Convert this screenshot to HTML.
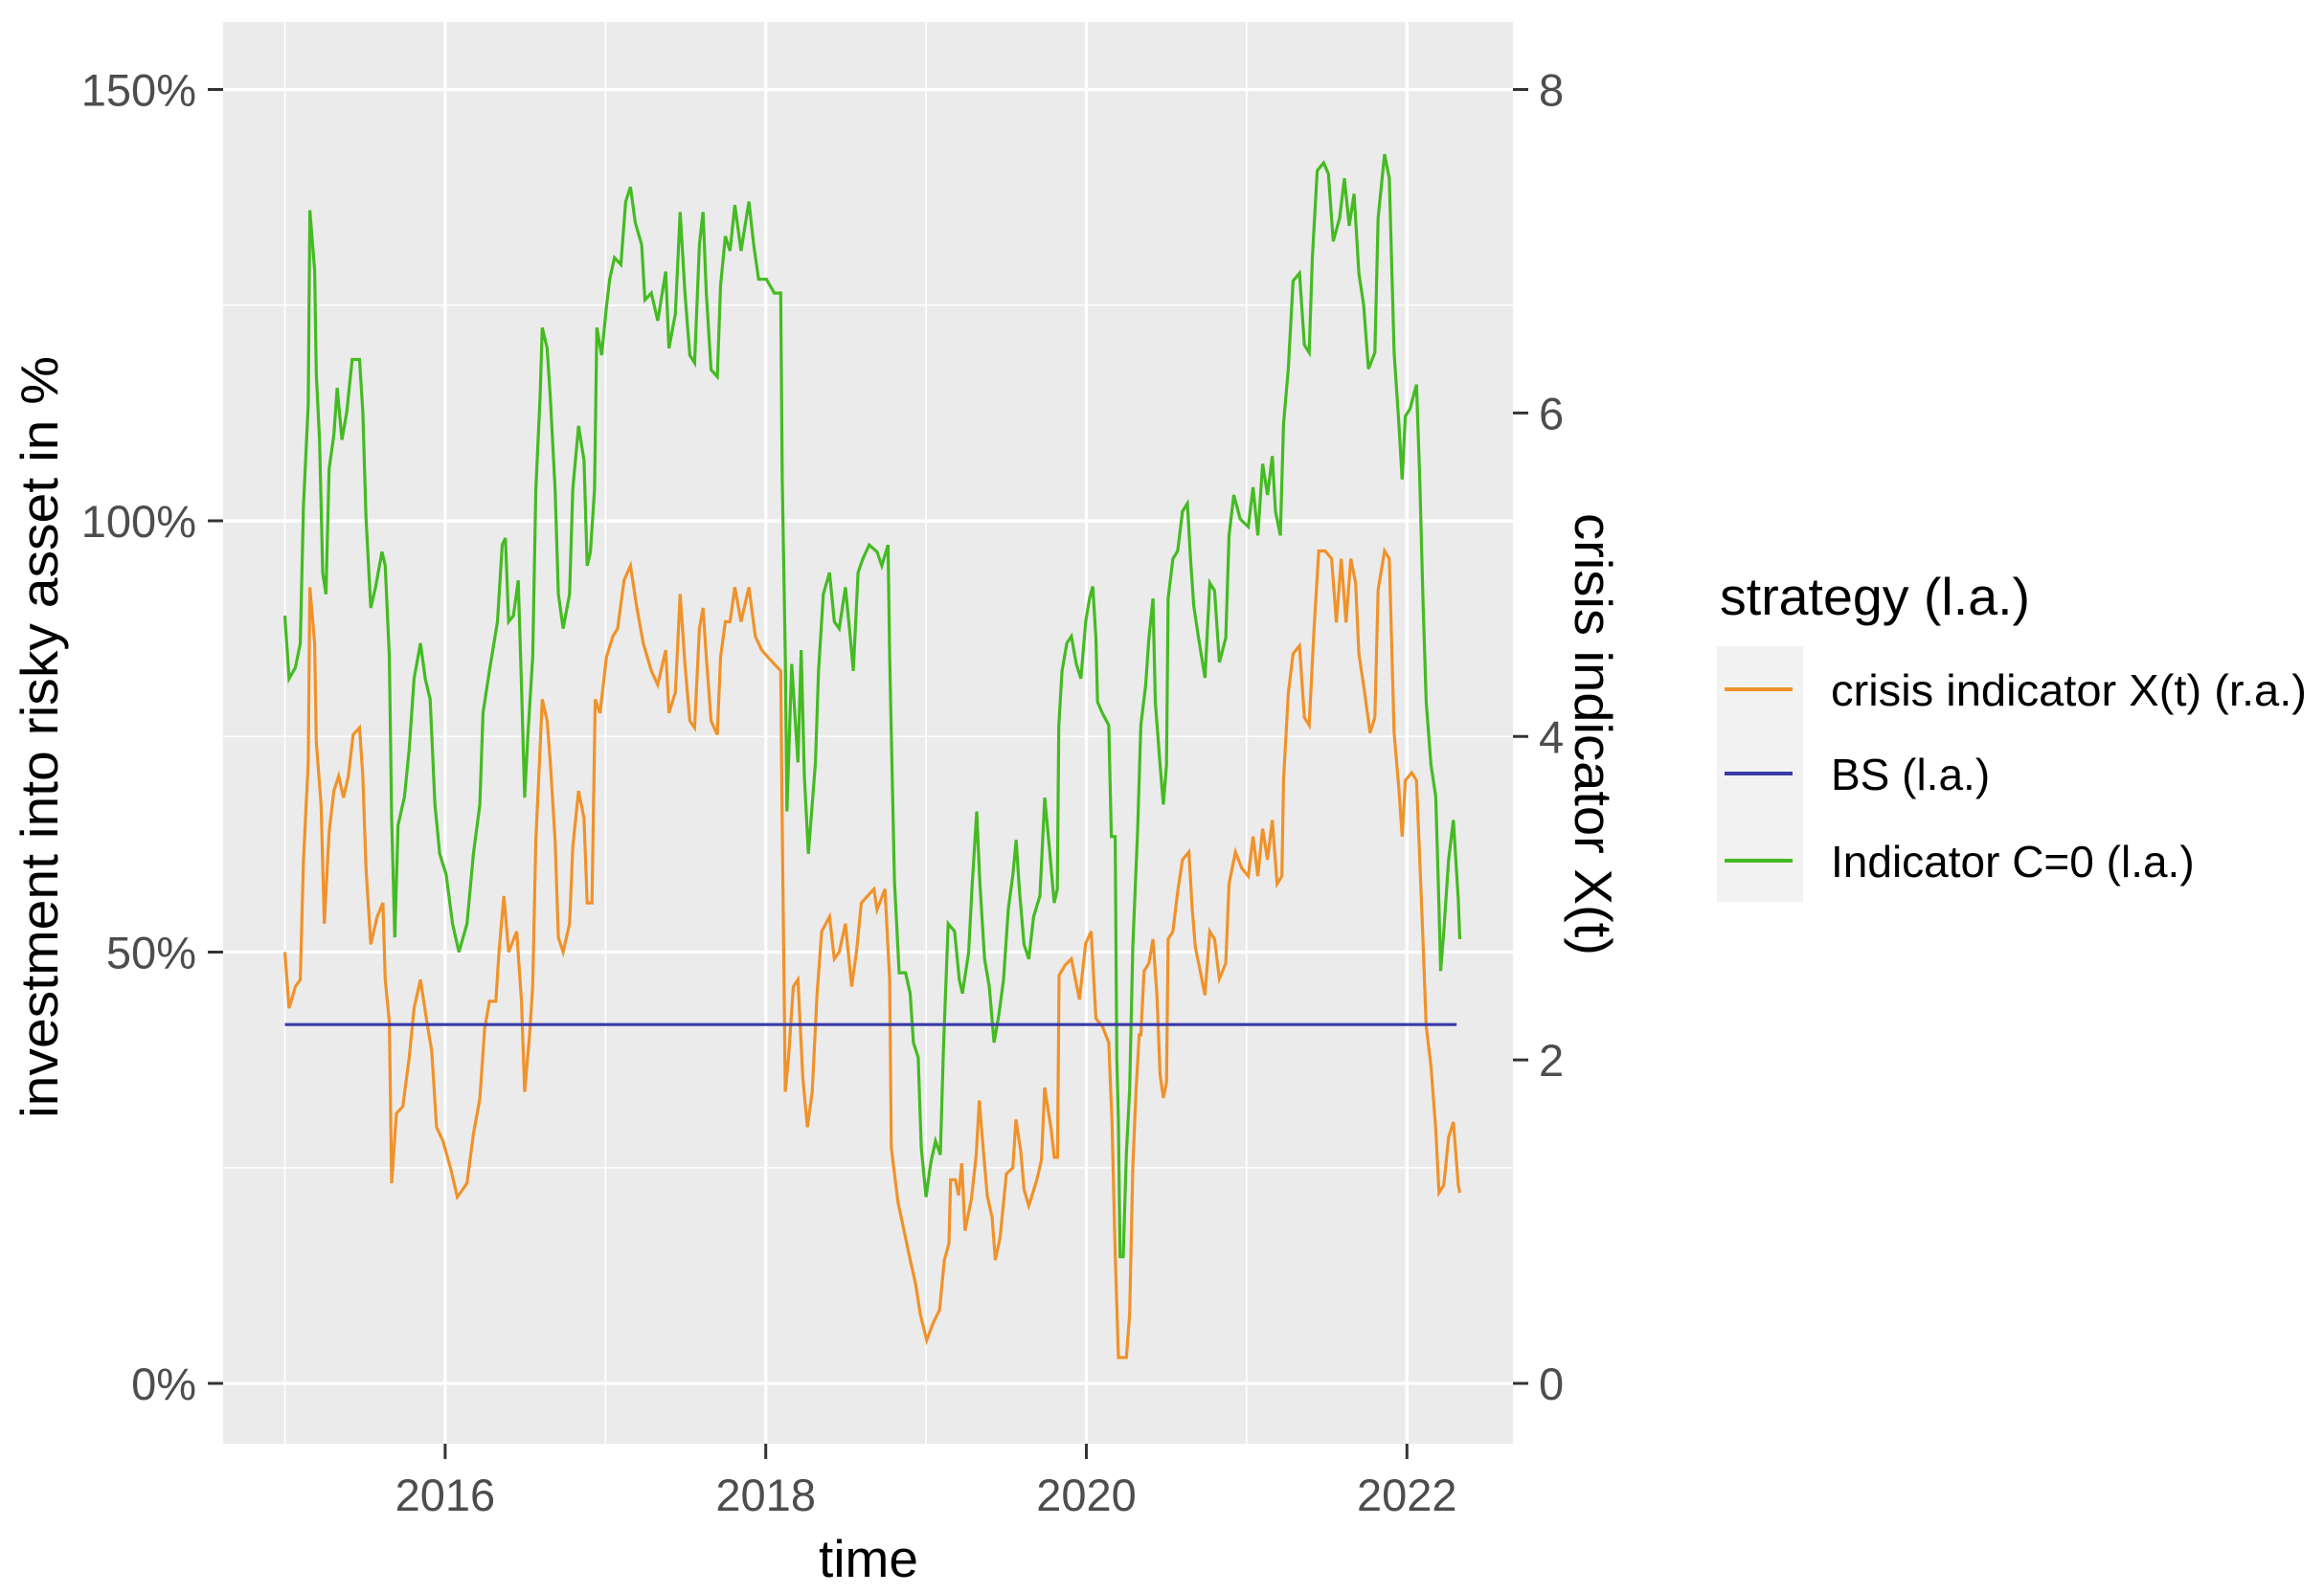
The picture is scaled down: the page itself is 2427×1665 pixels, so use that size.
<!DOCTYPE html>
<html><head><meta charset="utf-8"><style>
html,body{margin:0;padding:0;background:#fff;}
svg{display:block;font-family:"Liberation Sans",Arial,sans-serif;}
</style></head><body>
<svg id="chart" width="2427" height="1665" viewBox="0 0 2427 1665" xmlns="http://www.w3.org/2000/svg">
<rect x="233" y="23" width="1347" height="1485" fill="#ebebeb"/>
<g id="grid"></g>
<g id="series"></g>
<g id="axes"></g>
<text x="907" y="1647" font-size="55" text-anchor="middle" fill="#000">time</text>
<text transform="translate(60,770) rotate(-90)" font-size="55" text-anchor="middle" fill="#000" textLength="796" lengthAdjust="spacingAndGlyphs">investment into risky asset in %</text>
<text transform="translate(1645,767) rotate(90)" font-size="55" text-anchor="middle" fill="#000" textLength="462" lengthAdjust="spacingAndGlyphs">crisis indicator X(t)</text>
<g>
<text x="1796" y="642" font-size="55" fill="#000" textLength="324" lengthAdjust="spacingAndGlyphs">strategy (l.a.)</text>
<rect x="1793" y="675" width="90" height="267" fill="#f2f2f2"/>
<line x1="1801" x2="1872" y1="720" y2="720" stroke="#f0922a" stroke-width="4"/>
<line x1="1801" x2="1872" y1="808" y2="808" stroke="#3a3aa8" stroke-width="4"/>
<line x1="1801" x2="1872" y1="899" y2="899" stroke="#44bb22" stroke-width="4"/>
<text x="1912" y="737" font-size="46" fill="#000" textLength="497" lengthAdjust="spacingAndGlyphs">crisis indicator X(t) (r.a.)</text>
<text x="1912" y="825" font-size="46" fill="#000">BS (l.a.)</text>
<text x="1912" y="916" font-size="46" fill="#000">Indicator C=0 (l.a.)</text>
</g>
</svg>
<script>
const greenT=[2015.000,2015.026,2015.066,2015.096,2015.116,2015.146,2015.156,2015.186,2015.196,2015.216,2015.236,2015.256,2015.276,2015.306,2015.326,2015.356,2015.386,2015.420,2015.466,2015.486,2015.506,2015.536,2015.566,2015.606,2015.626,2015.652,2015.666,2015.686,2015.706,2015.746,2015.776,2015.806,2015.846,2015.876,2015.906,2015.936,2015.966,2016.006,2016.046,2016.086,2016.136,2016.176,2016.216,2016.236,2016.276,2016.326,2016.356,2016.376,2016.396,2016.426,2016.456,2016.476,2016.496,2016.516,2016.546,2016.566,2016.592,2016.606,2016.636,2016.656,2016.686,2016.706,2016.736,2016.776,2016.796,2016.832,2016.866,2016.886,2016.906,2016.932,2016.946,2016.976,2017.006,2017.026,2017.056,2017.096,2017.126,2017.156,2017.186,2017.226,2017.246,2017.286,2017.326,2017.376,2017.396,2017.436,2017.466,2017.496,2017.526,2017.556,2017.586,2017.609,2017.629,2017.659,2017.698,2017.718,2017.748,2017.777,2017.807,2017.846,2017.895,2017.925,2017.955,2018.004,2018.053,2018.093,2018.103,2018.122,2018.132,2018.162,2018.201,2018.221,2018.241,2018.266,2018.310,2018.329,2018.359,2018.398,2018.428,2018.458,2018.497,2018.527,2018.546,2018.576,2018.606,2018.645,2018.694,2018.724,2018.763,2018.773,2018.803,2018.832,2018.872,2018.901,2018.921,2018.951,2018.970,2019.000,2019.030,2019.059,2019.089,2019.108,2019.138,2019.178,2019.207,2019.227,2019.266,2019.286,2019.316,2019.335,2019.365,2019.394,2019.424,2019.454,2019.483,2019.513,2019.542,2019.562,2019.582,2019.611,2019.641,2019.671,2019.710,2019.740,2019.769,2019.799,2019.819,2019.828,2019.848,2019.878,2019.907,2019.937,2019.966,2019.996,2020.02,2020.04,2020.06,2020.07,2020.10,2020.14,2020.156,2020.18,2020.19,2020.20,2020.21,2020.23,2020.25,2020.27,2020.29,2020.32,2020.34,2020.37,2020.39,2020.416,2020.43,2020.46,2020.48,2020.50,2020.51,2020.54,2020.57,2020.60,2020.63,2020.65,2020.67,2020.70,2020.74,2020.77,2020.80,2020.83,2020.87,2020.89,2020.92,2020.96,2021.01,2021.04,2021.07,2021.10,2021.13,2021.16,2021.18,2021.21,2021.23,2021.26,2021.29,2021.33,2021.36,2021.39,2021.41,2021.44,2021.48,2021.51,2021.54,2021.58,2021.61,2021.64,2021.67,2021.70,2021.73,2021.76,2021.80,2021.82,2021.86,2021.89,2021.92,2021.95,2021.97,2021.99,2022.02,2022.06,2022.08,2022.10,2022.12,2022.15,2022.18,2022.20,2022.21,2022.23,2022.26,2022.29,2022.32,2022.33];
const greenPct=[89,81.7,83,85.8,101.7,113.5,136,129,117,109.4,94,91.5,106,110,115.4,109.4,112.6,118.7,118.7,112.6,100.4,89.9,92.3,96.4,94.8,84.2,65.5,51.7,64.7,68,73.6,81.7,85.8,81.7,79.3,67.1,61.4,59,53.3,50,53.3,61.4,67.1,77.7,82.6,88.3,97.2,98,88.3,89,93.1,80.9,67.9,75.2,84.2,103.7,114.3,122.4,120,114.3,103.7,91.5,87.5,91.5,103.7,111,107,94.8,96.4,103.7,122.4,119.2,124.8,128,130.5,129.7,137,138.7,134.6,132,125.6,126.4,123.2,128.9,120,124,135.8,126.4,119.2,118.3,132,135.8,126.4,117.5,116.7,127.3,133,131.3,136.6,131.3,137,132,128,128,126.4,126.4,104.9,84.2,66.3,83.4,72,85,70.4,61.4,72,82.6,91.5,94,88.3,87.5,92.3,86.6,82.6,94,95.6,97.2,96.4,94.8,97.2,84.2,58.2,47.6,47.6,45.2,39.5,37.8,27.3,21.6,25.6,28.1,26.5,38.6,53.3,52.4,46.8,45.2,50,57.3,66.3,58.2,49.2,46,39.5,42.7,46.8,55,59,63,57.3,50.9,49.2,54.1,56.5,67.9,62.2,55.7,57.3,76.2,82.6,85.8,86.6,83.4,81.7,88.3,91,92.4,86.4,79,77.7,76.3,63.4,63.4,37.7,30.3,14.7,14.7,26.7,34,50.6,64.3,76.3,80.9,86.4,91,79,71.7,67.1,71.7,91,95.6,96.5,101.1,102,95.6,90.1,86.4,81.8,92.8,91.9,83.6,86.4,98.3,103,100.2,99.3,103.9,98.3,106.6,103,107.5,101.1,98.3,111.2,117.6,127.8,128.7,120.4,119.5,130.5,140.6,141.5,140.2,132.4,135.1,139.7,134.2,137.9,128.7,125,117.6,119.5,135.1,142.5,139.7,119.5,111.2,104.8,112.1,113,115.8,104.8,91,79,71.7,68,55.1,47.8,52.4,60.7,65.3,56.1,51.5];
const crisisT=[2015.000,2015.026,2015.066,2015.096,2015.116,2015.146,2015.156,2015.186,2015.196,2015.226,2015.246,2015.276,2015.306,2015.336,2015.366,2015.396,2015.426,2015.466,2015.486,2015.506,2015.536,2015.576,2015.612,2015.626,2015.652,2015.666,2015.696,2015.736,2015.776,2015.806,2015.846,2015.886,2015.916,2015.946,2015.986,2016.036,2016.076,2016.136,2016.176,2016.216,2016.246,2016.276,2016.316,2016.336,2016.366,2016.396,2016.446,2016.476,2016.496,2016.526,2016.546,2016.566,2016.592,2016.606,2016.636,2016.656,2016.686,2016.706,2016.736,2016.776,2016.796,2016.832,2016.866,2016.886,2016.916,2016.936,2016.966,2017.006,2017.046,2017.076,2017.116,2017.156,2017.196,2017.236,2017.286,2017.326,2017.376,2017.396,2017.436,2017.466,2017.496,2017.526,2017.556,2017.586,2017.609,2017.629,2017.659,2017.698,2017.718,2017.748,2017.777,2017.807,2017.846,2017.895,2017.935,2017.975,2018.014,2018.053,2018.093,2018.103,2018.122,2018.142,2018.172,2018.201,2018.231,2018.260,2018.290,2018.320,2018.349,2018.398,2018.428,2018.458,2018.497,2018.536,2018.566,2018.596,2018.635,2018.675,2018.694,2018.744,2018.773,2018.783,2018.825,2018.865,2018.905,2018.934,2018.964,2019.004,2019.044,2019.084,2019.114,2019.143,2019.153,2019.183,2019.203,2019.223,2019.243,2019.283,2019.313,2019.332,2019.362,2019.382,2019.412,2019.432,2019.462,2019.501,2019.541,2019.561,2019.591,2019.611,2019.641,2019.691,2019.720,2019.740,2019.780,2019.800,2019.820,2019.830,2019.868,2019.907,2019.957,2019.996,2020.03,2020.06,2020.10,2020.14,2020.16,2020.18,2020.20,2020.25,2020.27,2020.29,2020.31,2020.33,2020.34,2020.36,2020.39,2020.416,2020.44,2020.46,2020.48,2020.50,2020.51,2020.54,2020.57,2020.60,2020.64,2020.66,2020.68,2020.71,2020.74,2020.77,2020.80,2020.83,2020.87,2020.89,2020.93,2020.97,2021.01,2021.04,2021.07,2021.10,2021.13,2021.16,2021.19,2021.22,2021.23,2021.26,2021.29,2021.33,2021.36,2021.39,2021.42,2021.45,2021.49,2021.53,2021.56,2021.59,2021.62,2021.65,2021.68,2021.70,2021.73,2021.77,2021.80,2021.82,2021.86,2021.89,2021.92,2021.95,2021.97,2021.99,2022.03,2022.06,2022.08,2022.10,2022.12,2022.15,2022.18,2022.20,2022.23,2022.26,2022.29,2022.32,2022.33];
const crisisPct=[50,43.5,46,46.8,60.6,72,92.3,85.8,74.4,67.1,53.3,63.9,68.7,70.4,67.9,70.4,75.2,76,70.4,59.8,50.9,54.1,55.7,46.8,41.9,23.2,31.3,32.1,37.8,43.5,46.8,41.9,38.6,29.7,28.1,24.8,21.6,23.2,28.9,33,41.1,44.3,44.3,50,56.5,50,52.4,44.3,33.8,40.3,46,63,73.6,79.3,76.8,72,63,51.7,50,53.3,62.2,68.7,65.5,55.7,55.7,79.3,77.7,84.2,86.6,87.5,93.1,94.8,89.9,85.8,82.6,81,85,77.7,80.1,91.5,83.4,76.8,76,87.5,89.9,84.2,76.8,75.2,84.2,88.3,88.3,92.3,88.3,92.3,86.6,85,84.2,83.4,82.6,64.7,33.8,37.8,46,46.8,35.4,29.7,33.8,45.2,52.4,54.1,49.2,50,53.3,46,50,55.7,56.5,57.3,54.9,57.3,46.8,27.3,21,17.5,14,11.6,8,5,7,8.5,14.3,16.2,23.6,23.6,21.8,25.5,17.7,21.4,26.5,32.8,26,21.8,19.2,14.3,16.9,24.3,25,30.6,26.9,22.5,20.6,23.6,25.9,34.3,29.5,26.2,26.2,47.3,48.5,49.2,44.5,51,52.4,42.3,41.4,39.5,30.3,15,3,3,8,25,34,40.4,40.4,47.8,48.7,51.5,45,35.8,33.1,34.9,51.5,52.4,57,60.7,61.6,55.1,50.6,47.8,45,52.4,51.5,46.9,48.7,57.9,61.6,59.7,58.8,63.4,58.8,64.3,60.7,65.3,57.9,58.8,69.9,80,84.6,85.5,77.2,76.3,87.3,96.5,96.5,95.6,88.2,95.6,88.2,95.6,92.8,84.6,80.9,75.4,77.2,92,96.5,95.6,75.4,68.9,63.4,69.9,70.8,69.9,60.7,51.5,41.4,36.8,29.4,22.1,23,28.5,30.3,23,22.1];
const bsPct=[41.6,41.6];
const bsT=[2015.0,2022.31];
const yTicks=[0,50,100,150];
const yTickLabels=["0%","50%","100%","150%"];
const yMinor=[25,75,125];
const y2Ticks=[0,2,4,6,8];
const xTicks=[2016,2018,2020,2022];
const xMinor=[2015,2017,2019,2021];

const NS="http://www.w3.org/2000/svg";
function xs(t){return 297.5+(t-2015)*167.4;}
function ys(p){return 1445-p*9.01;}
function y2s(x){return ys(x*18.75);}
function mk(tag,attrs,parent){const e=document.createElementNS(NS,tag);for(const k in attrs)e.setAttribute(k,attrs[k]);parent.appendChild(e);return e;}
const grid=document.getElementById('grid'),axes=document.getElementById('axes'),ser=document.getElementById('series');
yMinor.forEach(v=>{const l=mk('line',{x1:233,x2:1580,y1:ys(v),y2:ys(v),stroke:'#fff','stroke-width':1.6},grid);

});
xMinor.forEach(v=>{const l=mk('line',{x1:xs(v),x2:xs(v),y1:23,y2:1508,stroke:'#fff','stroke-width':1.6},grid);

});
yTicks.forEach((v,i)=>{const l=mk('line',{x1:233,x2:1580,y1:ys(v),y2:ys(v),stroke:'#fff','stroke-width':3.2},grid);


const t=mk('line',{x1:217,x2:233,y1:ys(v),y2:ys(v),stroke:'#333','stroke-width':3},axes);


const tx=mk('text',{x:205,y:ys(v)+17,'font-size':47,'text-anchor':'end',fill:'#4d4d4d'},axes);tx.textContent=yTickLabels[i];

});
xTicks.forEach(v=>{const l=mk('line',{x1:xs(v),x2:xs(v),y1:23,y2:1508,stroke:'#fff','stroke-width':3.2},grid);


const t=mk('line',{x1:xs(v),x2:xs(v),y1:1508,y2:1524,stroke:'#333','stroke-width':3},axes);


const tx=mk('text',{x:xs(v),y:1578,'font-size':47,'text-anchor':'middle',fill:'#4d4d4d'},axes);tx.textContent=String(v);

});
y2Ticks.forEach(v=>{const t=mk('line',{x1:1580,x2:1596,y1:y2s(v),y2:y2s(v),stroke:'#333','stroke-width':3},axes);


const tx=mk('text',{x:1607,y:y2s(v)+17,'font-size':47,fill:'#4d4d4d'},axes);tx.textContent=String(v);

});
function pts(T,V){return T.map((t,i)=>xs(t).toFixed(1)+','+ys(V[i]).toFixed(1)).join(' ');}
const gl=mk('polyline',{points:pts(greenT,greenPct),fill:'none',stroke:'#44bb22','stroke-width':3.2,'stroke-linejoin':'miter'},ser);


const ol=mk('polyline',{points:pts(crisisT,crisisPct),fill:'none',stroke:'#f0922a','stroke-width':3.2},ser);


const bl=mk('polyline',{points:pts(bsT,bsPct),fill:'none',stroke:'#3a3aa8','stroke-width':3.2},ser);


</script>
</body></html>
